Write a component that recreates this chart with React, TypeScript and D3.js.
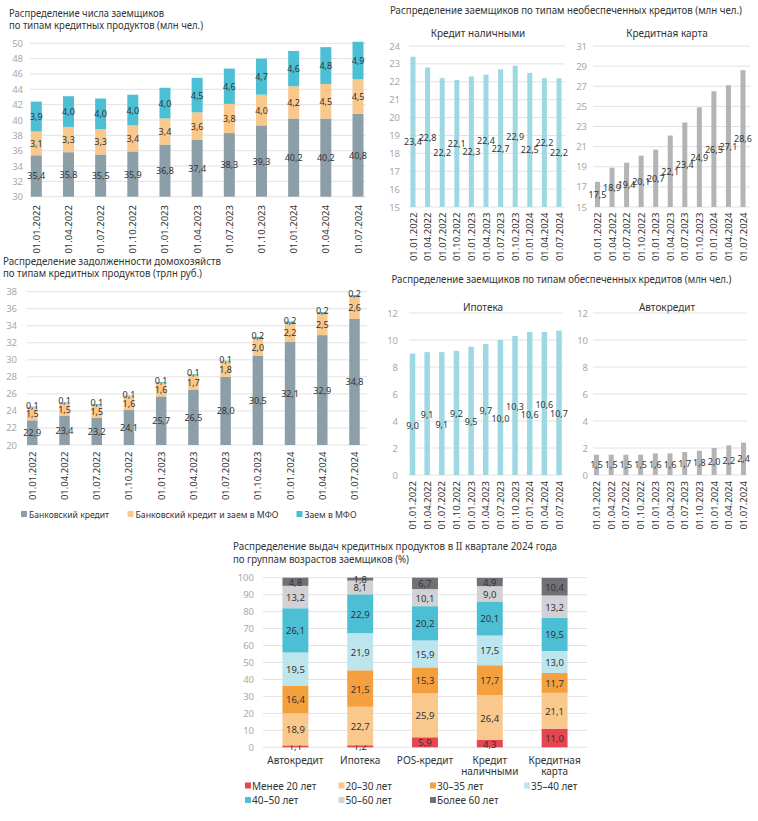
import React from 'react';
import * as d3 from 'd3';

const dates = ['01.01.2022','01.04.2022','01.07.2022','01.10.2022','01.01.2023','01.04.2023','01.07.2023','01.10.2023','01.01.2024','01.04.2024','01.07.2024'];

// Panel 1: borrowers by product type (mln)
const borrowersBank = [35.4,35.8,35.5,35.9,36.8,37.4,38.3,39.3,40.2,40.2,40.8];
const borrowersBoth = [3.1,3.3,3.3,3.4,3.4,3.6,3.8,4.0,4.2,4.5,4.5];
const borrowersMfo = [3.9,4.0,4.0,4.0,4.0,4.5,4.6,4.7,4.6,4.8,4.9];

// Panel 3: household debt (trln rub)
const debtBank = [22.9,23.4,23.2,24.1,25.7,26.5,28.0,30.5,32.1,32.9,34.8];
const debtBoth = [1.5,1.5,1.5,1.6,1.6,1.7,1.8,2.0,2.2,2.5,2.6];
const debtMfo = [0.1,0.1,0.1,0.1,0.1,0.1,0.1,0.2,0.2,0.2,0.2];

// Unsecured
const cashLoan = [23.4,22.8,22.2,22.1,22.3,22.4,22.7,22.9,22.5,22.2,22.2];
const creditCard = [17.5,18.9,19.4,20.1,20.7,22.1,23.4,24.9,26.5,27.1,28.6];

// Secured
const mortgage = [9.0,9.1,9.1,9.2,9.5,9.7,10.0,10.3,10.6,10.6,10.7];
const autoLoan = [1.5,1.5,1.5,1.5,1.6,1.6,1.7,1.8,2.0,2.2,2.4];

// Age groups
const ageProducts = [['Автокредит'], ['Ипотека'], ['POS-кредит'], ['Кредит', 'наличными'], ['Кредитная', 'карта']];
const ageGroups = ['Менее 20 лет','20–30 лет','30–35 лет','35–40 лет','40–50 лет','50–60 лет','Более 60 лет'];
const ageValues = [
  [1.1, 1.2, 5.9, 4.3, 11.0],
  [18.9, 22.7, 25.9, 26.4, 21.1],
  [16.4, 21.5, 15.3, 17.7, 11.7],
  [19.5, 21.9, 15.9, 17.5, 13.0],
  [26.1, 22.9, 20.2, 20.1, 19.5],
  [13.2, 8.1, 10.1, 9.0, 13.2],
  [4.8, 1.8, 6.7, 4.9, 10.4],
];

const stackLegend = ['Банковский кредит', 'Банковский кредит и заем в МФО', 'Заем в МФО'];

const C_BANK = '#8c9ea7';
const C_BOTH = '#f8c88c';
const C_MFO = '#4dbfd4';
const C_LCYAN = '#9ed8e3';
const C_GRAY = '#b4b4b6';
const AGE_COLORS = ['#e5464f', '#f9c88c', '#f4a03f', '#bde5ee', '#4cbfd4', '#d2d2d6', '#707175'];

const FONT = '"Noto Sans", "Open Sans", sans-serif';
const TXT = '#333333';
const AX = '#a8a8a8';
const GRID = '#e2e2e2';
const LBL = 9;

const fmt = (v: number) => v.toFixed(1).replace('.', ',');

type Series = { values: number[]; color: string };

function bandFromCenters(domain: string[], c0: number, c1: number, bw: number) {
  const n = domain.length;
  const step = (c1 - c0) / (n - 1);
  const pi = 1 - bw / step;
  return d3.scaleBand<string>().domain(domain).range([c0 - step / 2, c1 + step / 2]).paddingInner(pi).paddingOuter(pi / 2);
}

function BarPanel(props: {
  cats: string[]; series: Series[]; yDomain: [number, number]; yRange: [number, number]; tickStep: number;
  gridX: [number, number]; tickX: number; c0: number; c1: number; bw: number; dateY: number;
  stagger?: number; staggerBase?: number; topLabelLift?: number;
}) {
  const { cats, series, yDomain, yRange, tickStep, gridX, tickX, c0, c1, bw, dateY } = props;
  const x = bandFromCenters(cats, c0, c1, bw);
  const y = d3.scaleLinear().domain(yDomain).range(yRange);
  const ticks = d3.range(yDomain[0], yDomain[1] + tickStep / 2, tickStep);
  const out: React.ReactNode[] = [];
  ticks.forEach((t, i) => {
    out.push(<line key={'g' + i} x1={gridX[0]} x2={gridX[1]} y1={y(t)} y2={y(t)} stroke={GRID} strokeWidth={1} />);
    out.push(<text key={'t' + i} x={tickX} y={y(t)} textAnchor="end" dominantBaseline="central" fontSize={9.5} fill={AX}>{String(t)}</text>);
  });
  cats.forEach((c, i) => {
    let base = yDomain[0];
    series.forEach((s, k) => {
      const v = s.values[i];
      const y0 = k === 0 ? yDomain[0] : base;
      const y1 = k === 0 ? v : base + v;
      out.push(<rect key={`b${i}-${k}`} x={x(c)} width={x.bandwidth()} y={y(y1)} height={y(y0) - y(y1)} fill={s.color} />);
      const mid = (y0 + y1) / 2;
      let ly = y(mid);
      if (props.stagger) ly += (props.staggerBase || 0) + (i % 2 === 0 ? props.stagger : -props.stagger);
      if (props.topLabelLift && k === series.length - 1 && series.length > 1) ly = y(y1) - props.topLabelLift;
      out.push(<text key={`l${i}-${k}`} x={(x(c) as number) + x.bandwidth() / 2} y={ly} textAnchor="middle" dominantBaseline="central" fontSize={LBL} fill={TXT}>{fmt(v)}</text>);
      base = y1;
    });
    const cx = (x(c) as number) + x.bandwidth() / 2;
    out.push(<text key={'d' + i} transform={`translate(${cx},${dateY}) rotate(-90)`} textAnchor="end" dominantBaseline="central" fontSize={9.5} fill={TXT}>{c}</text>);
  });
  return <g>{out}</g>;
}

function AgePanel() {
  const x = d3.scaleBand<string>().domain(ageProducts.map(p => p.join(' '))).range([263, 587]).paddingInner(0.6).paddingOuter(0.3);
  const y = d3.scaleLinear().domain([0, 100]).range([747.3, 577.7]);
  const ticks = d3.range(0, 101, 10);
  const out: React.ReactNode[] = [];
  ticks.forEach((t, i) => {
    out.push(<line key={'g' + i} x1={263} x2={587} y1={y(t)} y2={y(t)} stroke={GRID} strokeWidth={1} />);
    out.push(<text key={'t' + i} x={254} y={y(t)} textAnchor="end" dominantBaseline="central" fontSize={9.5} fill={AX}>{t}</text>);
  });
  ageProducts.forEach((p, j) => {
    const key = p.join(' ');
    const x0 = x(key) as number;
    let base = 0;
    ageValues.forEach((vals, k) => {
      const v = vals[j];
      const top = Math.min(100, base + v);
      out.push(<rect key={`r${j}-${k}`} x={x0} width={x.bandwidth()} y={y(top)} height={Math.max(0, y(base) - y(top))} fill={AGE_COLORS[k]} />);
      out.push(<text key={`v${j}-${k}`} x={x0 + x.bandwidth() / 2} y={y((base + top) / 2) + 0.5} textAnchor="middle" dominantBaseline="central" fontSize={9.5} fill={TXT}>{fmt(v)}</text>);
      base += v;
    });
    p.forEach((line, li) => {
      out.push(<text key={`c${j}-${li}`} x={x0 + x.bandwidth() / 2} y={760 + li * 11} textAnchor="middle" dominantBaseline="central" fontSize={10} fill={TXT}>{line}</text>);
    });
  });
  const legX = [248, 341.5, 433, 527];
  ageGroups.forEach((g, k) => {
    const row = Math.floor(k / 4);
    const col = k % 4;
    const lx = legX[col];
    const ly = 785.5 + row * 14.5;
    out.push(<rect key={'lr' + k} x={lx - 3} y={ly - 3} width={6} height={6} fill={AGE_COLORS[k]} />);
    out.push(<text key={'lt' + k} x={lx + 4} y={ly} dominantBaseline="central" fontSize={10} fill={TXT}>{g}</text>);
  });
  return <g>{out}</g>;
}

function Title(props: { x: number; y: number; w: number; children: string; size?: number }) {
  return (
    <text x={props.x} y={props.y} fontSize={props.size || 10.5} fill={TXT} textLength={props.w} lengthAdjust="spacingAndGlyphs">{props.children}</text>
  );
}

export default function App() {
  const stackColors = [C_BANK, C_BOTH, C_MFO];
  return (
    <svg width={758} height={821} style={{ position: 'absolute', left: 0, top: 0, background: '#fff' }} fontFamily={FONT}>
      {/* Panel 1 */}
      <Title x={9} y={16.5} w={155}>Распределение числа заемщиков</Title>
      <Title x={9} y={28.5} w={194}>по типам кредитных продуктов (млн чел.)</Title>
      <BarPanel cats={dates} series={[{ values: borrowersBank, color: C_BANK }, { values: borrowersBoth, color: C_BOTH }, { values: borrowersMfo, color: C_MFO }]}
        yDomain={[30, 50]} yRange={[196.7, 43.3]} tickStep={2} gridX={[30, 366]} tickX={23} c0={36.3} c1={358} bw={11} dateY={205} />

      {/* Panel 3 */}
      <Title x={3} y={264.5} w={218}>Распределение задолженности домохозяйств</Title>
      <Title x={3} y={276.5} w={199}>по типам кредитных продуктов (трлн руб.)</Title>
      <BarPanel cats={dates} series={[{ values: debtBank, color: C_BANK }, { values: debtBoth, color: C_BOTH }, { values: debtMfo, color: C_MFO }]}
        yDomain={[20, 38]} yRange={[445, 291.7]} tickStep={2} gridX={[27, 367]} tickX={17} c0={32.3} c1={354.5} bw={10.5} dateY={451.5} topLabelLift={1.5} />
      {stackLegend.map((l, i) => {
        const lx = [24, 130.5, 299.5][i];
        const w = [80, 143, 52][i];
        return (
          <g key={'sl' + i}>
            <rect x={lx - 3} y={511} width={6} height={6} fill={stackColors[i]} />
            <text x={lx + 5} y={514} dominantBaseline="central" fontSize={9} fill={TXT} textLength={w} lengthAdjust="spacingAndGlyphs">{l}</text>
          </g>
        );
      })}

      {/* Panel 2 */}
      <Title x={390} y={13.5} w={352} size={10}>Распределение заемщиков по типам необеспеченных кредитов (млн чел.)</Title>
      <text x={478} y={33} textAnchor="middle" dominantBaseline="central" fontSize={10} fill={TXT}>Кредит наличными</text>
      <text x={667} y={33} textAnchor="middle" dominantBaseline="central" fontSize={10} fill={TXT}>Кредитная карта</text>
      <BarPanel cats={dates} series={[{ values: cashLoan, color: C_LCYAN }]} yDomain={[15, 24]} yRange={[207, 46]} tickStep={1}
        gridX={[409, 565]} tickX={400} c0={413} c1={559} bw={5} dateY={212.5} stagger={5} staggerBase={5} />
      <BarPanel cats={dates} series={[{ values: creditCard, color: C_GRAY }]} yDomain={[15, 31]} yRange={[207, 46]} tickStep={2}
        gridX={[593, 750]} tickX={587} c0={597.5} c1={743} bw={5} dateY={212.5} />

      {/* Panel 4 */}
      <Title x={391.5} y={283} w={340} size={10}>Распределение заемщиков по типам обеспеченных кредитов (млн чел.)</Title>
      <text x={483} y={306.5} textAnchor="middle" dominantBaseline="central" fontSize={10} fill={TXT}>Ипотека</text>
      <text x={667} y={306.5} textAnchor="middle" dominantBaseline="central" fontSize={10} fill={TXT}>Автокредит</text>
      <BarPanel cats={dates} series={[{ values: mortgage, color: C_LCYAN }]} yDomain={[0, 12]} yRange={[475, 313]} tickStep={2}
        gridX={[409, 563]} tickX={398} c0={412.5} c1={559} bw={5.5} dateY={481} stagger={5} staggerBase={6} />
      <BarPanel cats={dates} series={[{ values: autoLoan, color: C_GRAY }]} yDomain={[0, 12]} yRange={[475, 313]} tickStep={2}
        gridX={[593, 747]} tickX={588} c0={596.5} c1={743.5} bw={5} dateY={481} />

      {/* Panel 5 */}
      <Title x={233} y={549.5} w={324}>Распределение выдач кредитных продуктов в II квартале 2024 года</Title>
      <Title x={233} y={562.5} w={176}>по группам возрастов заемщиков (%)</Title>
      <AgePanel />
    </svg>
  );
}
